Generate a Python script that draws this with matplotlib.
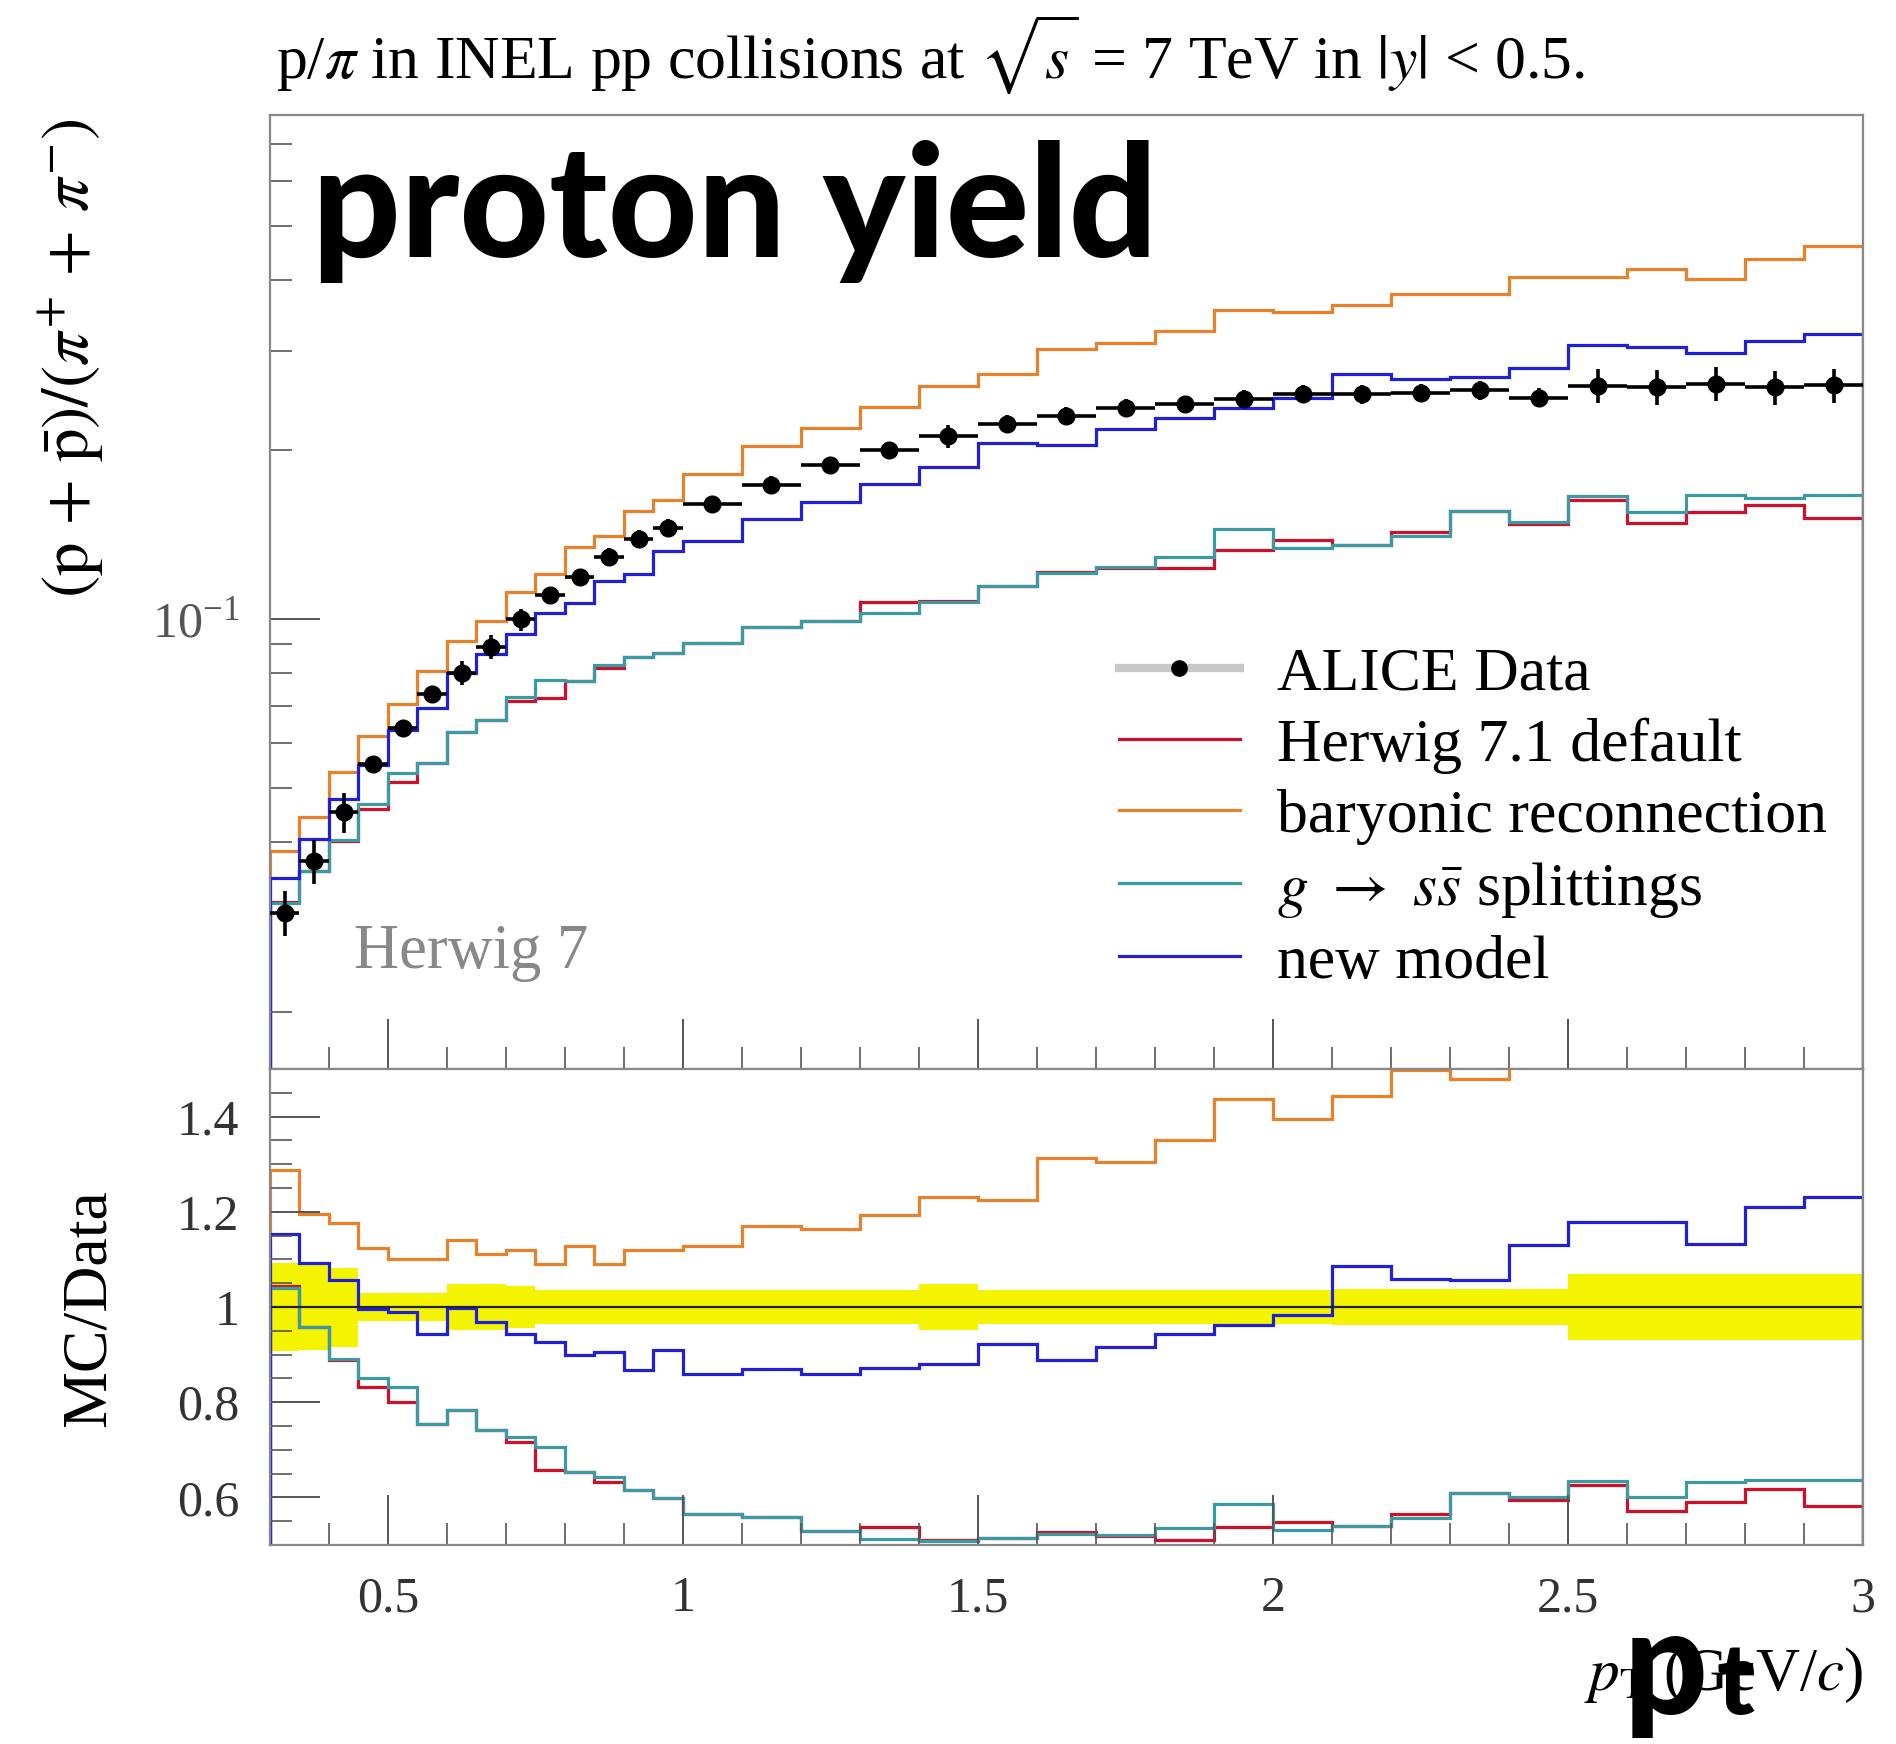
import matplotlib
matplotlib.use('Agg')
import matplotlib.pyplot as plt
from matplotlib.lines import Line2D
from matplotlib.ticker import LogLocator, MultipleLocator, FixedLocator, NullFormatter
import numpy as np

plt.rcParams['font.family'] = 'serif'
plt.rcParams['font.serif'] = ['Liberation Serif', 'DejaVu Serif']
plt.rcParams['mathtext.fontset'] = 'stix'

# pT bins (GeV/c)
pt_edges = [0.30, 0.35, 0.40, 0.45, 0.50, 0.55, 0.60, 0.65, 0.70, 0.75, 0.80,
            0.85, 0.90, 0.95, 1.00, 1.10, 1.20, 1.30, 1.40, 1.50, 1.60, 1.70,
            1.80, 1.90, 2.00, 2.10, 2.20, 2.30, 2.40, 2.50, 2.60, 2.70, 2.80,
            2.90, 3.00]

# ALICE p/pi ratio and relative uncertainty
alice = [0.0300, 0.0371, 0.0453, 0.0551, 0.0640, 0.0734, 0.0802, 0.0892, 0.0997,
         0.1102, 0.1187, 0.1289, 0.1388, 0.1452, 0.1600, 0.1731, 0.1875, 0.1995,
         0.2111, 0.2223, 0.2298, 0.2375, 0.2410, 0.2465, 0.2515, 0.2508, 0.2525,
         0.2552, 0.2475, 0.2600, 0.2585, 0.2620, 0.2580, 0.2605]
alice_rel_err = [0.092, 0.090, 0.083, 0.030, 0.030, 0.030, 0.048, 0.048, 0.045,
                 0.035, 0.035, 0.035, 0.035, 0.035, 0.035, 0.035, 0.035, 0.035,
                 0.048, 0.035, 0.035, 0.035, 0.035, 0.035, 0.035, 0.038, 0.038,
                 0.038, 0.038, 0.070, 0.070, 0.070, 0.070, 0.070]

# Herwig 7 predictions
h71_default = [0.03135, 0.03554, 0.04023, 0.04584, 0.05120, 0.05542, 0.06280,
               0.06610, 0.07148, 0.07240, 0.07763, 0.08159, 0.08536, 0.08683,
               0.09056, 0.09676, 0.09919, 0.1073, 0.1077, 0.1145, 0.1213, 0.1230,
               0.1229, 0.1326, 0.1381, 0.1354, 0.1429, 0.1557, 0.1473, 0.1628,
               0.1479, 0.1548, 0.1594, 0.1514]
baryonic_rec = [0.03861, 0.04437, 0.05332, 0.06193, 0.07046, 0.08081, 0.09143,
                0.09919, 0.1116, 0.1202, 0.1340, 0.1406, 0.1553, 0.1625, 0.1806,
                0.2027, 0.2183, 0.2382, 0.2599, 0.2721, 0.3017, 0.3097, 0.3254,
                0.3542, 0.3508, 0.3619, 0.3780, 0.3777, 0.4055, 0.4055, 0.4196,
                0.4027, 0.4365, 0.4597]
g_to_ss = [0.03120, 0.03554, 0.04032, 0.04684, 0.05325, 0.05542, 0.06280, 0.06610,
           0.07248, 0.07780, 0.07763, 0.08288, 0.08536, 0.08683, 0.09056, 0.09676,
           0.09919, 0.1023, 0.1072, 0.1145, 0.1204, 0.1237, 0.1289, 0.1447, 0.1338,
           0.1354, 0.1404, 0.1557, 0.1485, 0.1651, 0.1551, 0.1658, 0.1643, 0.1659]
new_model = [0.03462, 0.04055, 0.04784, 0.05493, 0.06336, 0.06929, 0.07996,
             0.08643, 0.09412, 0.1022, 0.1067, 0.1168, 0.1203, 0.1320, 0.1376,
             0.1504, 0.1613, 0.1738, 0.1860, 0.2052, 0.2041, 0.2176, 0.2275,
             0.2371, 0.2472, 0.2726, 0.2674, 0.2695, 0.2797, 0.3065, 0.3045,
             0.2968, 0.3122, 0.3209]

mc_names = ['Herwig 7.1 default', 'baryonic reconnection',
            r'$g\ \rightarrow\ s\bar{s}$ splittings', 'new model']
mc_sets = [h71_default, baryonic_rec, g_to_ss, new_model]
mc_colors = ['#d0102a', '#e8822a', '#3c9aa4', '#2020d8']

edges = np.array(pt_edges)
centers = 0.5 * (edges[:-1] + edges[1:])
half_w = 0.5 * np.diff(edges)
data = np.array(alice)
err = np.array(alice_rel_err)

fig = plt.figure(figsize=(18.96, 17.44), dpi=100)
ax1 = fig.add_axes([0.1424, 0.3870, 0.8402, 0.5471])
ax2 = fig.add_axes([0.1424, 0.1141, 0.8402, 0.2729], sharex=ax1)

frame_col = '#888888'
for ax in (ax1, ax2):
    for sp in ax.spines.values():
        sp.set_color(frame_col)
        sp.set_linewidth(1.6)
    ax.tick_params(which='both', direction='in', colors='#555555', labelcolor='#333333',
                   top=False, right=False)
    ax.tick_params(which='major', length=36, width=1.4)
    ax.tick_params(which='minor', length=16, width=1.2)

# main panel
for vals, col in zip(mc_sets, mc_colors):
    ax1.stairs(vals, edges, color=col, lw=2.3)
ax1.errorbar(centers, data, xerr=half_w, yerr=data * err, fmt='o', color='black',
             ms=12, elinewidth=2.6, capsize=0, zorder=5)
ax1.set_yscale('log')
ax1.set_xlim(0.3, 3.0)
ax1.set_ylim(0.0158, 0.788)
ax1.yaxis.set_major_locator(LogLocator(base=10))
ax1.yaxis.set_minor_locator(LogLocator(base=10, subs=np.arange(2, 10)))
ax1.yaxis.set_minor_formatter(NullFormatter())
ax1.xaxis.set_major_locator(MultipleLocator(0.5))
ax1.xaxis.set_minor_locator(MultipleLocator(0.1))
ax1.tick_params(axis='x', labelbottom=False)
ax1.tick_params(axis='y', labelsize=36, pad=22, labelcolor='#555555')

handles = [Line2D([], [], color='#c8c8c8', lw=6, marker='o', mfc='black',
                  mec='black', ms=11)]
handles += [Line2D([], [], color=c, lw=2.3) for c in mc_colors]
ax1.legend(handles, ['ALICE Data'] + mc_names, loc='upper left',
           bbox_to_anchor=(0.533, 0.443), frameon=False, fontsize=44.5,
           handlelength=1.95, handletextpad=0.6, labelspacing=0.24,
           borderpad=0, borderaxespad=0)

ax1.text(0.0527, 0.106, 'Herwig 7', transform=ax1.transAxes,
         fontsize=45, color='#888888', va='baseline', ha='left')

# ratio panel
ax2.stairs(1 + err, edges, baseline=1 - err, fill=True, color='#f4f400', lw=0)
ax2.axhline(1.0, color='#222222', lw=1.6)
for vals, col in zip(mc_sets, mc_colors):
    ax2.stairs(np.array(vals) / data, edges, color=col, lw=2.3)
ax2.set_ylim(0.5, 1.5)
ax2.yaxis.set_major_locator(FixedLocator([0.6, 0.8, 1.0, 1.2, 1.4]))
ax2.yaxis.set_minor_locator(MultipleLocator(0.05))
ax2.set_yticklabels(['0.6', '0.8', '1', '1.2', '1.4'])
ax2.xaxis.set_minor_locator(MultipleLocator(0.1))
ax2.set_xticks([0.5, 1.0, 1.5, 2.0, 2.5, 3.0])
ax2.set_xticklabels(['0.5', '1', '1.5', '2', '2.5', '3'])
ax2.tick_params(axis='both', labelsize=36)
ax2.tick_params(axis='x', pad=22)
ax2.tick_params(axis='y', pad=22)
ax2.set_xlim(0.3, 3.0)

# titles and axis labels
fig.text(276 / 1896, 1 - 54 / 1744,
         r'p/$\pi$ in INEL pp collisions at $\sqrt{s}$ = 7 TeV in $|y|$ < 0.5.',
         fontsize=44.5, ha='left', va='center')
fig.text(72 / 1896, 1 - 118 / 1744,
         r'$(\mathrm{p}\,+\,\bar{\mathrm{p}})/(\pi^{+}\,+\,\pi^{-})$',
         rotation=90, fontsize=48, ha='center', va='top')
fig.text(90 / 1896, 1 - 1308 / 1744, 'MC/Data', rotation=90, fontsize=46,
         ha='center', va='center')
fig.text(1863 / 1896, 1 - 1675 / 1744, r'$p_\mathrm{T}$ (GeV/$c$)', fontsize=44,
         ha='right', va='center')

# annotations
fig.text(312 / 1896, 1 - 257 / 1744, 'proton yield', fontsize=112,
         family='Lato', fontweight='black', ha='left', va='baseline')
fig.text(1624 / 1896, 1 - 1714 / 1744, 'p', fontsize=106,
         family='Lato', fontweight='black', ha='left', va='baseline')
fig.text(1716 / 1896, 1 - 1714 / 1744, 't', fontsize=72,
         family='Lato', fontweight='black', ha='left', va='baseline')

fig.savefig('out.png', dpi=100)
